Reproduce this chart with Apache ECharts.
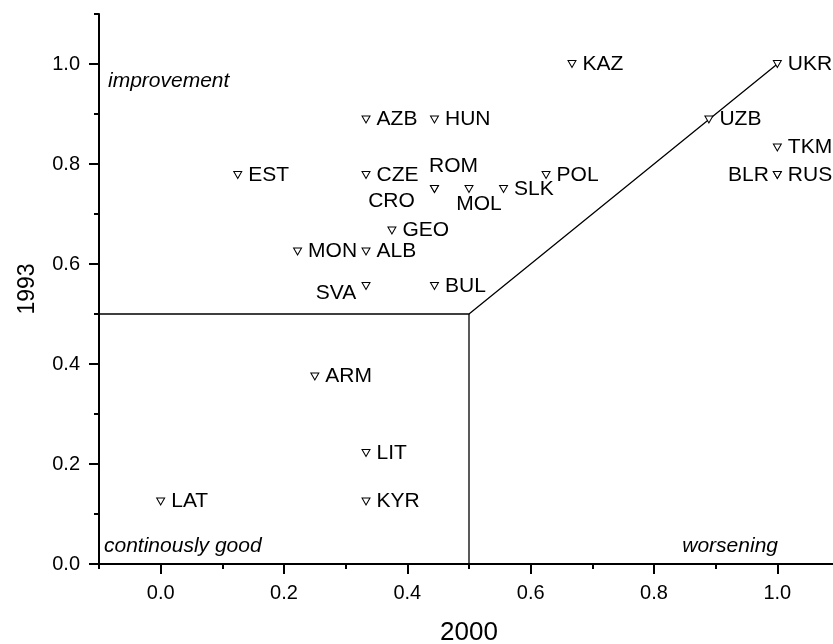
<!DOCTYPE html>
<html>
<head>
<meta charset="utf-8">
<script src="https://cdn.jsdelivr.net/npm/echarts@6/dist/echarts.min.js"></script>
<style>
  html, body { margin: 0; padding: 0; background: #fff; }
  #chart { width: 833px; height: 644px; }
</style>
</head>
<body>
<div id="chart"></div>
<script>
var countries = ['UKR', 'KAZ', 'AZB', 'HUN', 'UZB', 'TKM', 'EST', 'CZE', 'POL', 'BLR', 'RUS', 'ROM',
                 'CRO', 'MOL', 'SLK', 'GEO', 'MON', 'ALB', 'SVA', 'BUL', 'ARM', 'LIT', 'LAT', 'KYR'];
var x2000 = [1.0, 0.667, 0.333, 0.444, 0.889, 1.0, 0.125, 0.333, 0.625, 1.0, 1.0, 0.444,
             0.444, 0.5, 0.556, 0.375, 0.222, 0.333, 0.333, 0.444, 0.25, 0.333, 0.0, 0.333];
var y1993 = [1.0, 1.0, 0.889, 0.889, 0.889, 0.833, 0.778, 0.778, 0.778, 0.778, 0.778, 0.75,
             0.75, 0.75, 0.75, 0.667, 0.625, 0.625, 0.556, 0.556, 0.375, 0.222, 0.125, 0.125];

// boundary lines of the three regions
var upperBoundary = [[-0.1, 0.5], [0.5, 0.5], [1.0, 1.0]];
var lowerBoundary = [[0.5, 0.0], [0.5, 0.5]];

var xMajorTicks = [0.0, 0.2, 0.4, 0.6, 0.8, 1.0];
var xMinorTicks = [-0.1, 0.1, 0.3, 0.5, 0.7, 0.9];
var yMajorTicks = [0.0, 0.2, 0.4, 0.6, 0.8, 1.0];
var yMinorTicks = [0.1, 0.3, 0.5, 0.7, 0.9, 1.1];

var fontFamily = '"Liberation Sans", Arial, Helvetica, sans-serif';

// labels that do not sit to the right of their marker (shift of label centre from marker)
var labelShift = {
  ROM: [19, -23],
  CRO: [-43, 12],
  MOL: [10, 15],
  SVA: [-30, 7]
};

var points = countries.map(function (c, i) {
  var p = { name: c, value: [x2000[i], y1993[i]] };
  if (labelShift[c]) p.label = { position: 'inside' };
  if (c === 'BLR') p.label = { position: 'left', distance: 4 };
  return p;
});

function fmt(v) { return v.toFixed(1); }

var tickStyle = { color: '#000', width: 2 };

var myChart = echarts.init(document.getElementById('chart'));

myChart.setOption({
  animation: false,
  backgroundColor: '#fff',
  grid: {
    left: 99,
    top: 14,
    width: 740,
    height: 550,
    outerBoundsMode: 'none'
  },
  xAxis: [
    {
      type: 'value',
      min: -0.1,
      max: 1.1,
      position: 'bottom',
      name: '2000',
      nameLocation: 'middle',
      nameGap: 56,
      nameTextStyle: { color: '#000', fontFamily: fontFamily, fontSize: 26 },
      axisLine: { show: true, onZero: false, lineStyle: tickStyle },
      axisTick: { show: true, customValues: xMajorTicks, length: 10, lineStyle: tickStyle },
      axisLabel: { customValues: xMajorTicks, margin: 19, color: '#000', fontFamily: fontFamily, fontSize: 20, formatter: fmt },
      splitLine: { show: false }
    },
    {
      type: 'value',
      min: -0.1,
      max: 1.1,
      position: 'bottom',
      axisLine: { show: false, onZero: false },
      axisTick: { show: true, customValues: xMinorTicks, length: 5, lineStyle: tickStyle },
      axisLabel: { show: false },
      splitLine: { show: false }
    }
  ],
  yAxis: [
    {
      type: 'value',
      min: 0,
      max: 1.1,
      position: 'left',
      name: '1993',
      nameLocation: 'middle',
      nameGap: 60,
      nameTextStyle: { color: '#000', fontFamily: fontFamily, fontSize: 23 },
      axisLine: { show: true, onZero: false, lineStyle: tickStyle },
      axisTick: { show: true, customValues: yMajorTicks, length: 10, lineStyle: tickStyle },
      axisLabel: { customValues: yMajorTicks, margin: 19, color: '#000', fontFamily: fontFamily, fontSize: 20, formatter: fmt },
      splitLine: { show: false }
    },
    {
      type: 'value',
      min: 0,
      max: 1.1,
      position: 'left',
      axisLine: { show: false, onZero: false },
      axisTick: { show: true, customValues: yMinorTicks, length: 5, lineStyle: tickStyle },
      axisLabel: { show: false },
      splitLine: { show: false }
    }
  ],
  series: [
    {
      type: 'line',
      data: upperBoundary,
      symbol: 'none',
      silent: true,
      lineStyle: { color: '#000', width: 1.3 },
      z: 1
    },
    {
      type: 'line',
      data: lowerBoundary,
      symbol: 'none',
      silent: true,
      lineStyle: { color: '#000', width: 1.3 },
      z: 1
    },
    {
      type: 'scatter',
      data: points,
      symbol: 'path://M0,0 L10,0 L5,9 Z',
      symbolSize: [8, 7],
      itemStyle: { color: '#fff', borderColor: '#000', borderWidth: 1, opacity: 1 },
      label: {
        show: true,
        position: 'right',
        distance: 6,
        formatter: '{b}',
        color: '#000',
        fontFamily: fontFamily,
        fontSize: 21
      },
      labelLayout: function (params) {
        var shift = labelShift[countries[params.dataIndex]];
        if (shift) return { dx: shift[0], dy: shift[1] };
        return {};
      },
      z: 3
    }
  ],
  graphic: [
    {
      type: 'text', left: 108, top: 71,
      style: { text: 'improvement', fontFamily: fontFamily, fontStyle: 'italic', fontSize: 21, fill: '#000' }
    },
    {
      type: 'text', left: 104, top: 536,
      style: { text: 'continously good', fontFamily: fontFamily, fontStyle: 'italic', fontSize: 21, fill: '#000' }
    },
    {
      type: 'text', right: 55, top: 536,
      style: { text: 'worsening', fontFamily: fontFamily, fontStyle: 'italic', fontSize: 21, fill: '#000' }
    }
  ]
});
</script>
</body>
</html>
